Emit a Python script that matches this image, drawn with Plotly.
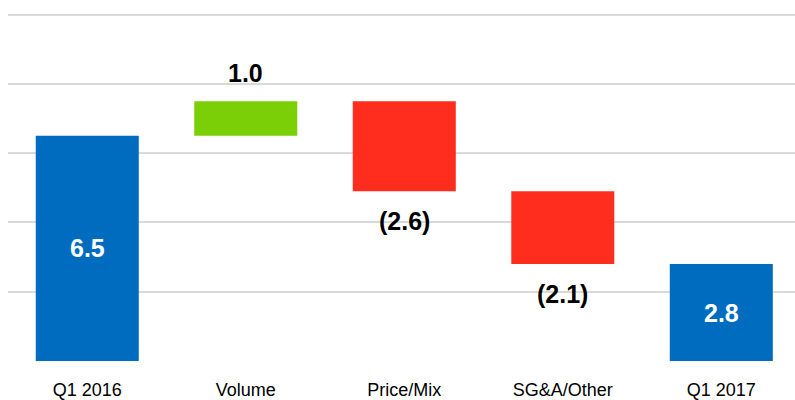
import plotly.graph_objects as go

categories = ["Q1 2016", "Volume", "Price/Mix", "SG&A/Other", "Q1 2017"]
values = [6.5, 1.0, -2.6, -2.1, 2.8]
measures = ["absolute", "relative", "relative", "relative", "total"]
grid_ticks = [2, 4, 6, 8, 10]

BLUE = "#006CBF"
GREEN = "#7ACF06"
RED = "#FF2D1E"
FONT = "Liberation Sans, Arial"

fig = go.Figure(go.Waterfall(
    x=categories,
    y=values,
    measure=measures,
    increasing=dict(marker=dict(color=GREEN)),
    decreasing=dict(marker=dict(color=RED)),
    totals=dict(marker=dict(color=BLUE)),
    connector=dict(visible=False),
    hoverinfo="skip",
))

def fmt(v):
    return f"({abs(v):.1f})" if v < 0 else f"{v:.1f}"

LBL = 25
annotations = []
running = 0.0
for cat, v, m in zip(categories, values, measures):
    if m == "absolute":
        running = v
        annotations.append(dict(x=cat, y=v / 2, text=fmt(v), showarrow=False,
                                font=dict(color="white", size=LBL, family=FONT, weight="bold")))
    elif m == "total":
        annotations.append(dict(x=cat, y=running / 2, text=fmt(running), showarrow=False,
                                font=dict(color="white", size=LBL, family=FONT, weight="bold")))
    else:
        running = running + v
        if v >= 0:
            annotations.append(dict(x=cat, y=running, text=fmt(v), showarrow=False,
                                    yanchor="bottom", yshift=12,
                                    font=dict(color="black", size=LBL, family=FONT, weight="bold")))
        else:
            annotations.append(dict(x=cat, y=running, text=fmt(v), showarrow=False,
                                    yanchor="top", yshift=-14,
                                    font=dict(color="black", size=LBL, family=FONT, weight="bold")))

fig.update_layout(
    width=795, height=400,
    margin=dict(l=8, r=0, t=0, b=39),
    paper_bgcolor="white", plot_bgcolor="white",
    showlegend=False,
    waterfallgap=0.35,
    font=dict(family=FONT, size=18, color="black"),
    annotations=annotations,
    xaxis=dict(range=[-0.5, 4.465], showgrid=False, zeroline=False, showline=False,
               ticks="", ticklabelstandoff=16, tickfont=dict(size=18, color="black")),
    yaxis=dict(range=[0, 10.42], tickvals=grid_ticks, showticklabels=False,
               gridcolor="#D9D9D9", gridwidth=1.5, zeroline=False, showline=False),
)

fig.write_html("out.html", config={"displayModeBar": False},
               post_script="document.body.style.margin='0px';document.body.style.padding='0px';")
